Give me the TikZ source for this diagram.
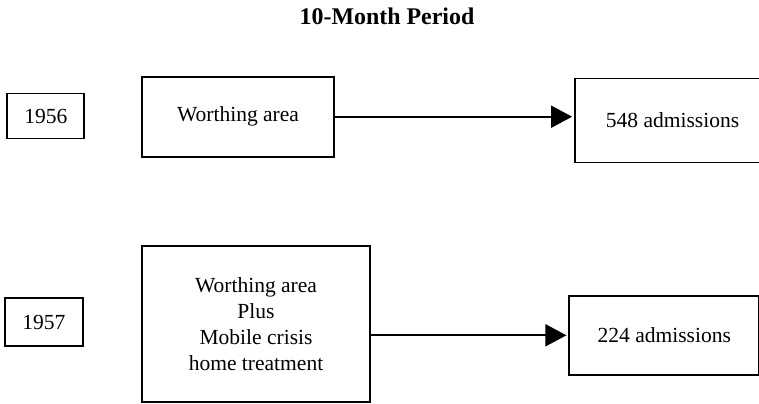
\documentclass[tikz,border=0pt]{standalone}
\usepackage{fontspec}
\setmainfont{Liberation Serif}
\usetikzlibrary{arrows.meta}
\begin{document}
\begin{tikzpicture}[x=1bp,y=-1bp,
    box/.style={draw,line width=1.8bp,inner sep=0pt,align=center,
      font=\fontsize{21.6}{26}\selectfont},
    flow/.style={line width=1.8bp,-{Triangle[length=21bp,width=22bp]},shorten >=2bp}]
  \clip (0,0) rectangle (759,403);

  \node[font=\fontsize{24}{28}\selectfont\bfseries] (title) at (387,16) {10-Month Period};

  % 1956
  \node[box,minimum width=77bp,minimum height=45bp] (yr56) at (45.8,116) {1956};
  \node[box,minimum width=192bp,minimum height=80bp] (area56) at (238,116.7) {Worthing area};
  \node[box,minimum width=195bp,minimum height=84bp] (adm56) at (672.5,120.5) {548 admissions};
  \draw[flow] (area56.east) -- (area56.east -| adm56.west);

  % 1957
  \node[box,minimum width=78bp,minimum height=48bp] (yr57) at (43.8,322) {1957};
  \node[box,minimum width=228bp,minimum height=156bp] (area57) at (256,324.3)
    {Worthing area\\Plus\\Mobile crisis\\home treatment};
  \node[box,minimum width=190bp,minimum height=79bp] (adm57) at (664.3,335.3) {224 admissions};
  \draw[flow] (area57.east |- adm57.west) -- (adm57.west);
\end{tikzpicture}
\end{document}
